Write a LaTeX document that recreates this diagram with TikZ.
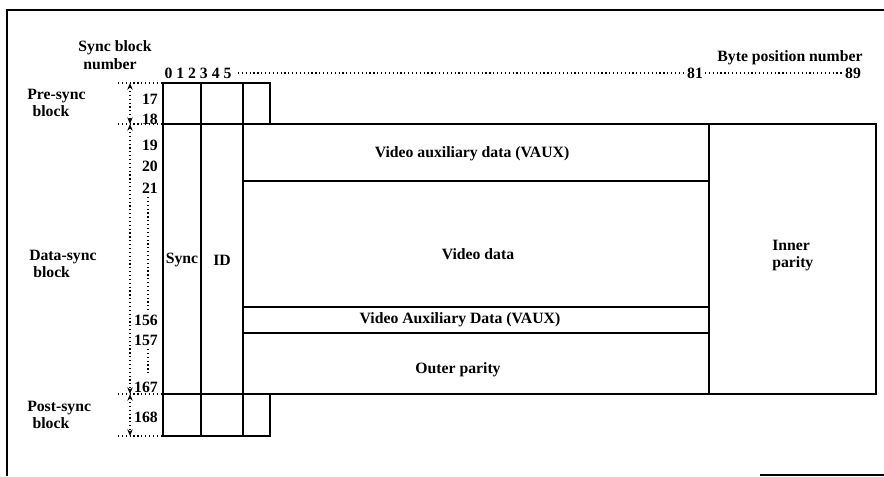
\documentclass[tikz,border=0pt]{standalone}
\usepackage{fontspec}
\setmainfont{Liberation Serif}
\usetikzlibrary{arrows.meta}
\tikzset{
  txt/.style={font=\fontsize{11.8}{12.8}\selectfont\bfseries, inner sep=0pt, text=black},
  rownum/.style={txt, anchor=east},
  side/.style={txt, anchor=west, align=left},
  grid/.style={line width=1.2pt, line cap=rect},
  dots/.style={dotted, line width=0.9pt},
  dim/.style={dots, {Stealth[length=5pt,width=4pt]}-{Stealth[length=5pt,width=4pt]}},
  frame/.style={line width=1.3pt}
}
\begin{document}
\begin{tikzpicture}[x=0.75pt,y=-0.75pt]
\useasboundingbox (0,0) rectangle (884,476);
% outer frame
\coordinate (fbl) at (7,476);
\coordinate (ftl) at (7,10);
\coordinate (ftr) at (884,10);
\coordinate (fb1) at (760,475);
\coordinate (fb2) at (884,475);
\draw[frame] (fbl) -- (ftl) -- (ftr);
\draw[frame] (fb1) -- (fb2);

% grid coordinates
\coordinate (pA) at (163,83);  \coordinate (pB) at (270,124);
\coordinate (dA) at (163,124); \coordinate (dB) at (876,394);
\coordinate (qA) at (163,394); \coordinate (qB) at (270,436);
% pre-sync block
\draw[grid] (pA) rectangle (pB);
% data block
\draw[grid] (dA) rectangle (dB);
% post-sync
\draw[grid] (qA) rectangle (qB);
% column lines
\coordinate (c1t) at (201,83);  \coordinate (c1b) at (201,436);
\coordinate (c2t) at (243,83);  \coordinate (c2b) at (243,436);
\coordinate (c3t) at (709,124); \coordinate (c3b) at (709,394);
\draw[grid] (c1t) -- (c1b);
\draw[grid] (c2t) -- (c2b);
\draw[grid] (c3t) -- (c3b);
% row lines
\coordinate (r1a) at (243,181); \coordinate (r1b) at (709,181);
\coordinate (r2a) at (243,307); \coordinate (r2b) at (709,307);
\coordinate (r3a) at (243,333); \coordinate (r3b) at (709,333);
\draw[grid] (r1a) -- (r1b);
\draw[grid] (r2a) -- (r2b);
\draw[grid] (r3a) -- (r3b);

% cell labels
\node[txt] (vaux1) at (472,154) {Video auxiliary data (VAUX)};
\node[txt] (vdata) at (478,254) {Video data};
\node[txt] (vaux2) at (460,320) {Video Auxiliary Data (VAUX)};
\node[txt] (outer) at (458,370) {Outer parity};
\node[txt, align=left, anchor=west] (inner) at (772,256) {Inner\\parity};
\node[txt] (sync) at (182,260) {Sync};
\node[txt] (id) at (222,260) {ID};

% header labels
\node[txt] (sbn1) at (115,48) {Sync block};
\node[txt] (sbn2) at (110,64) {number};
\node[txt] (cols) at (198,73) {0 1 2 3 4 5};
\node[txt] (b81) at (695,73) {81};
\node[txt] (b89) at (853,73) {89};
\node[txt] (bpn) at (790,58) {Byte position number};
\coordinate (hd1) at (238,73);
\coordinate (hd2) at (686,73);
\coordinate (hd3) at (705,73);
\coordinate (hd4) at (844,73);
\draw[dots] (hd1) -- (hd2);
\draw[dots] (hd3) -- (hd4);

% row dimension lines
\coordinate (t1a) at (118,83);  \coordinate (t1b) at (163,83);
\coordinate (t2a) at (118,124); \coordinate (t2b) at (163,124);
\coordinate (t3a) at (118,394); \coordinate (t3b) at (163,394);
\coordinate (t4a) at (118,436); \coordinate (t4b) at (163,436);
\draw[dots] (t1a) -- (t1b);
\draw[dots] (t2a) -- (t2b);
\draw[dots] (t3a) -- (t3b);
\draw[dots] (t4a) -- (t4b);
\coordinate (v1) at (130,83);
\coordinate (v2) at (130,124);
\coordinate (v3) at (130,394);
\coordinate (v4) at (130,436);
\draw[dim] (v1) -- (v2);
\draw[dim] (v2) -- (v3);
\draw[dim] (v3) -- (v4);

% row numbers
\node[rownum] (n17) at (158,99) {17};
\node[rownum] (n18) at (158,119) {18};
\node[rownum] (n19) at (158,145) {19};
\node[rownum] (n20) at (158,166) {20};
\node[rownum] (n21) at (158,188) {21};
\node[rownum] (n156) at (158,320) {156};
\node[rownum] (n157) at (158,340) {157};
\node[rownum] (n167) at (158,387) {167};
\node[rownum] (n168) at (158,417) {168};
\coordinate (e1) at (148,197); \coordinate (e2) at (148,312);
\coordinate (e3) at (148,349); \coordinate (e4) at (148,373);
\draw[dots] (e1) -- (e2);
\draw[dots] (e3) -- (e4);

% side labels
\node[side] (pre) at (27,103) {Pre-sync\\\hspace{4pt}block};
\node[side] (data) at (29,264) {Data-sync\\\hspace{3pt}block};
\node[side] (post) at (27,415) {Post-sync\\\hspace{4pt}block};
\end{tikzpicture}
\end{document}
